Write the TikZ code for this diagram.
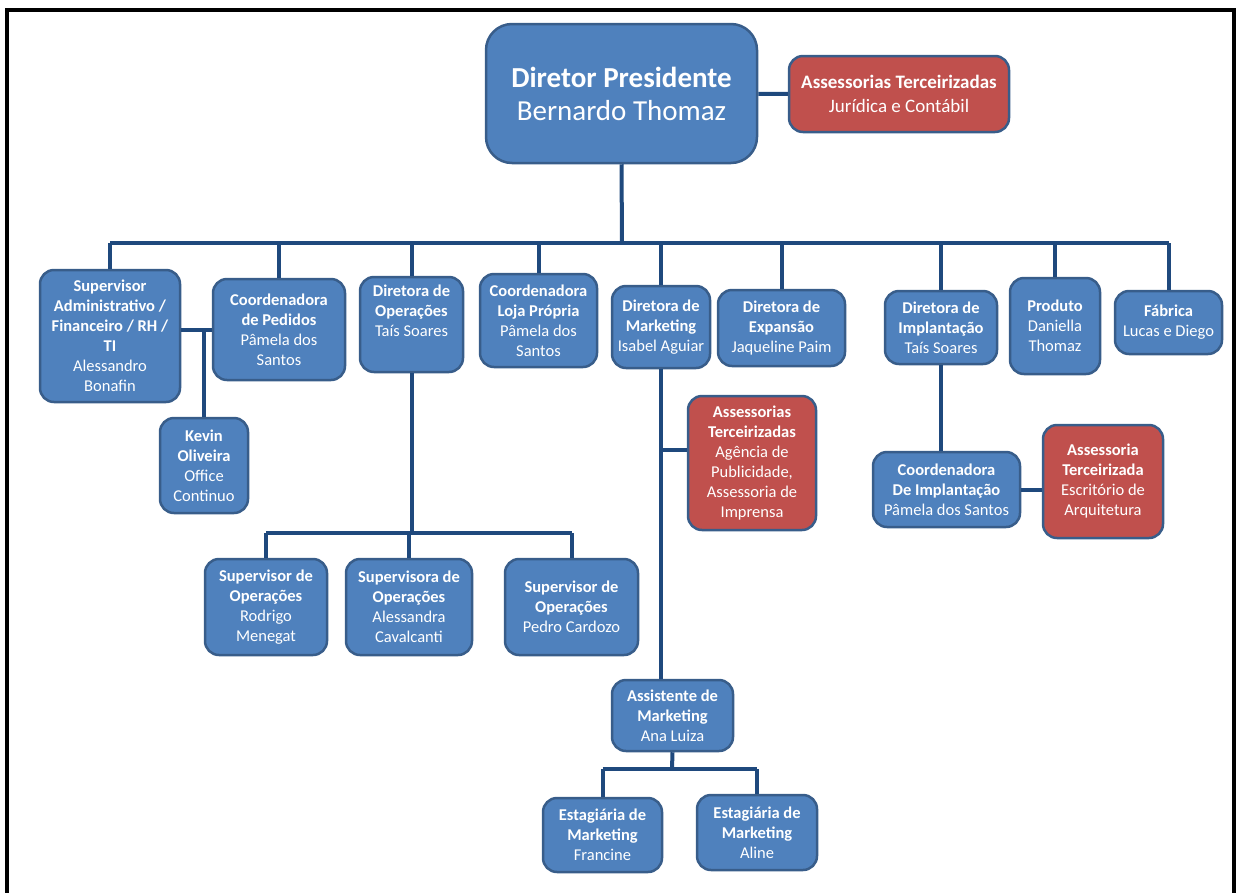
\documentclass[tikz,border=0pt]{standalone}
\usepackage{fontspec}
\setmainfont{Carlito}
\usetikzlibrary{positioning}

\definecolor{boxblue}{RGB}{79,129,189}
\definecolor{boxline}{RGB}{56,93,138}
\definecolor{boxred}{RGB}{192,80,77}
\definecolor{linkblue}{RGB}{31,73,125}

\tikzset{
  box/.style={draw=boxline, fill=boxblue, line width=2.5pt, rounded corners=14pt,
    text=white, align=center, inner sep=2pt, font=\fontsize{16.5}{20}\selectfont},
  redbox/.style={box, fill=boxred},
  link/.style={draw=linkblue, line width=4pt}
}

\begin{document}
\begin{tikzpicture}[x=1pt,y=-1pt]
    \useasboundingbox (0,0) rectangle (1239,892);
    \draw[line width=3.5pt] (7,10) rectangle (1234,905);

    % top
    \node[box, rounded corners=26pt, minimum width=271, minimum height=139,
      font=\fontsize{29}{33}\selectfont] (pres) at (621.5,93.5)
      {\textbf{Diretor Presidente}\\Bernardo Thomaz};
    \node[redbox, minimum width=220, minimum height=76,
      font=\fontsize{19}{24}\selectfont] (ass1) at (899,94)
      {\textbf{Assessorias Terceirizadas}\\Jurídica e Contábil};

    % first level
    \node[box, minimum width=140, minimum height=132] (supadm) at (110,336)
      {\textbf{Supervisor}\\\textbf{Administrativo /}\\\textbf{Financeiro / RH /}\\\textbf{TI}\\Alessandro\\Bonafin};
    \node[box, minimum width=132, minimum height=101] (pedidos) at (279,329.5)
      {\textbf{Coordenadora}\\\textbf{de Pedidos}\\Pâmela dos\\Santos};
    \node[box, minimum width=103, minimum height=95] (oper) at (411.5,324.5)
      {\textbf{Diretora de}\\\textbf{Operações}\\Taís Soares\\[8pt]};
    \node[box, minimum width=117, minimum height=93] (loja) at (538.5,320.5)
      {\textbf{Coordenadora}\\\textbf{Loja Própria}\\Pâmela dos\\Santos};
    \node[box, minimum width=98, minimum height=82] (mkt) at (661,327)
      {\textbf{Diretora de}\\\textbf{Marketing}\\Isabel Aguiar};
    \node[box, minimum width=127, minimum height=76] (expa) at (781.5,328)
      {\textbf{Diretora de}\\\textbf{Expansão}\\Jaqueline Paim};
    \node[box, minimum width=112, minimum height=73] (impl) at (941,327.5)
      {\textbf{Diretora de}\\\textbf{Implantação}\\Taís Soares};
    \node[box, minimum width=90, minimum height=96] (prod) at (1055,326)
      {\textbf{Produto}\\Daniella\\Thomaz};
    \node[box, minimum width=107, minimum height=63] (fab) at (1168.5,322.5)
      {\textbf{Fábrica}\\Lucas e Diego};

    % lower levels
    \node[box, minimum width=88, minimum height=95] (kevin) at (204,465.5)
      {\textbf{Kevin}\\\textbf{Oliveira}\\Office\\Continuo};
    \node[box, minimum width=122, minimum height=96] (sup1) at (266,607)
      {\textbf{Supervisor de}\\\textbf{Operações}\\Rodrigo\\Menegat};
    \node[box, minimum width=126, minimum height=96] (sup2) at (409,607)
      {\textbf{Supervisora de}\\\textbf{Operações}\\Alessandra\\Cavalcanti};
    \node[box, minimum width=133, minimum height=96] (sup3) at (571.5,607)
      {\textbf{Supervisor de}\\\textbf{Operações}\\Pedro Cardozo};
    \node[redbox, minimum width=128, minimum height=134] (assmkt) at (752,463)
      {\textbf{Assessorias}\\\textbf{Terceirizadas}\\Agência de\\Publicidade,\\Assessoria de\\Imprensa};
    \node[box, minimum width=121, minimum height=71] (assist) at (672.5,715.5)
      {\textbf{Assistente de}\\\textbf{Marketing}\\Ana Luiza};
    \node[box, minimum width=119, minimum height=74] (fran) at (602.5,835)
      {\textbf{Estagiária de}\\\textbf{Marketing}\\Francine};
    \node[box, minimum width=120, minimum height=75] (aline) at (757,832.5)
      {\textbf{Estagiária de}\\\textbf{Marketing}\\Aline};
    \node[box, minimum width=147, minimum height=75] (coordimpl) at (946.5,489.5)
      {\textbf{Coordenadora}\\\textbf{De Implantação}\\Pâmela dos Santos};
    \node[redbox, minimum width=120, minimum height=113] (assimpl) at (1103,481.5)
      {\textbf{Assessoria}\\\textbf{Terceirizada}\\Escritório de\\Arquitetura};

    \coordinate (bus)  at (622,243);
    \coordinate (bus2) at (410,533);
    \coordinate (bus3) at (672,769);
    \coordinate (mkbr) at (661,450);

    \draw[link] (pres) -- (ass1);
    \draw[link] (pres.south) -- (bus);
    \draw[link] (supadm.north |- bus) -- (fab.north |- bus);
    \draw[link] (supadm.north) -- (supadm.north |- bus);
    \draw[link] (pedidos.north) -- (pedidos.north |- bus);
    \draw[link] (oper.north) -- (oper.north |- bus);
    \draw[link] (loja.north) -- (loja.north |- bus);
    \draw[link] (mkt.north) -- (mkt.north |- bus);
    \draw[link] (expa.north) -- (expa.north |- bus);
    \draw[link] (impl.north) -- (impl.north |- bus);
    \draw[link] (prod.north) -- (prod.north |- bus);
    \draw[link] (fab.north) -- (fab.north |- bus);

    \draw[link] (supadm.east |- pedidos) -- (pedidos.west);
    \draw[link] (kevin.north) -- (kevin.north |- pedidos);

    \draw[link] (oper.south) -- (oper.south |- bus2);
    \draw[link] (sup1.north |- bus2) -- (sup3.north |- bus2);
    \draw[link] (sup1.north) -- (sup1.north |- bus2);
    \draw[link] (sup2.north) -- (sup2.north |- bus2);
    \draw[link] (sup3.north) -- (sup3.north |- bus2);

    \draw[link] (mkt.south) -- (mkt.south |- assist.north);
    \draw[link] (mkbr) -- (mkbr -| assmkt.west);
    \draw[link] (assist.south) -- (bus3);
    \draw[link] (fran.north |- bus3) -- (aline.north |- bus3);
    \draw[link] (fran.north) -- (fran.north |- bus3);
    \draw[link] (aline.north) -- (aline.north |- bus3);

    \draw[link] (impl.south) -- (impl.south |- coordimpl.north);
    \draw[link] (coordimpl.east) -- (coordimpl.east -| assimpl.west);
  \end{tikzpicture}
\end{document}
